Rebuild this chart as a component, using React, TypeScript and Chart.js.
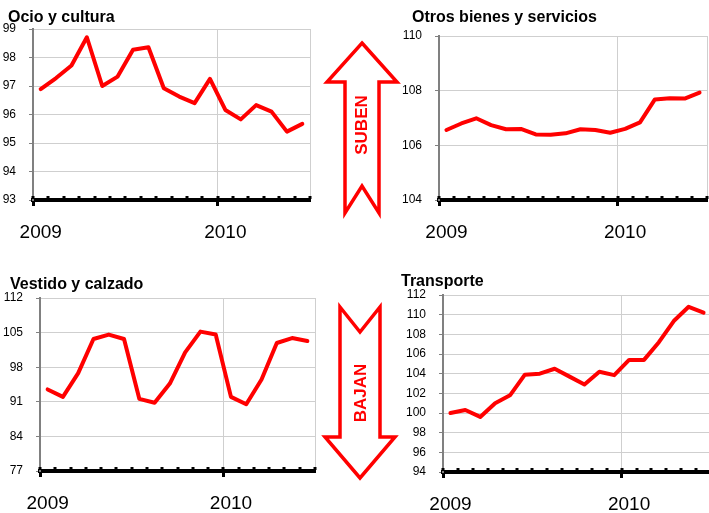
import React, { useEffect, useRef } from 'react';
import { Chart, registerables } from 'chart.js';

Chart.register(...registerables);

// ---------- DATA ----------
const months = [
  'ene-09', 'feb-09', 'mar-09', 'abr-09', 'may-09', 'jun-09', 'jul-09', 'ago-09', 'sep-09',
  'oct-09', 'nov-09', 'dic-09', 'ene-10', 'feb-10', 'mar-10', 'abr-10', 'may-10', 'jun-10',
];
const yearTickLabels = ['2009', '', '', '', '', '', '', '', '', '', '', '', '2010', '', '', '', '', ''];
const yearBoundaryIndex = 12;

const ocioValues = [96.89, 97.28, 97.72, 98.71, 97.0, 97.33, 98.27, 98.36, 96.92, 96.63, 96.4, 97.25, 96.16, 95.83, 96.33, 96.1, 95.4, 95.67];
const otrosValues = [106.56, 106.8, 106.99, 106.74, 106.59, 106.6, 106.4, 106.39, 106.44, 106.59, 106.56, 106.46, 106.6, 106.84, 107.68, 107.72, 107.71, 107.93];
const vestidoValues = [93.5, 92.0, 96.8, 103.7, 104.6, 103.7, 91.6, 90.8, 94.7, 101.0, 105.2, 104.6, 92.0, 90.5, 95.5, 102.9, 103.9, 103.3];
const transporteValues = [100.0, 100.3, 99.6, 101.0, 101.8, 103.9, 104.0, 104.5, 103.7, 102.9, 104.2, 103.85, 105.4, 105.4, 107.2, 109.35, 110.8, 110.2];

const ocioTicks = [93, 99, 1];
const otrosTicks = [104, 110, 2];
const vestidoTicks = [77, 112, 7];
const transporteTicks = [94, 112, 2];

const titles = ['Ocio y cultura', 'Otros bienes y servicios', 'Vestido y calzado', 'Transporte'];
const arrowLabels = ['SUBEN', 'BAJAN'];

// ---------- STYLE ----------
const FONT = '"Liberation Sans", Arial, Helvetica, sans-serif';
const RED = '#ff0000';
const GRID = '#cfcfcf';
const TRANSPARENT = 'rgba(0,0,0,0)';

interface Geo {
  cx: number; cy: number; titleX: number; titleTop: number;
  L: number; T: number; R: number; B: number; bottom: number;
}

const axisDots = {
  id: 'axisDots',
  afterDraw(chart: any) {
    const xs = chart.scales.x;
    const area = chart.chartArea;
    const n = xs.ticks.length;
    const ctx = chart.ctx;
    ctx.save();
    ctx.fillStyle = '#000';
    for (let i = 0; i <= n; i++) {
      const p = xs.getPixelForValue(i - 0.5);
      ctx.fillRect(Math.round(p) - 1.5, area.bottom - 4, 3, 3);
    }
    ctx.restore();
  },
};

function buildConfig(values: number[], ticks: number[], g: Geo): any {
  const yWidth = g.L - g.cx;
  const xHeight = g.bottom - g.B;
  return {
    type: 'line',
    data: {
      labels: months,
      datasets: [{
        data: values,
        borderColor: RED,
        borderWidth: 4,
        pointRadius: 0,
        tension: 0,
        fill: false,
        borderJoinStyle: 'round',
        borderCapStyle: 'round',
      }],
    },
    options: {
      responsive: false,
      animation: false,
      devicePixelRatio: 1,
      layout: { padding: { left: 0, right: 10, top: g.T - g.cy, bottom: 0 } },
      plugins: {
        legend: { display: false },
        tooltip: { enabled: false },
        title: { display: false },
      },
      scales: {
        x: {
          type: 'category',
          offset: true,
          afterFit: (s: any) => { s.height = xHeight; },
          grid: {
            display: true,
            offset: true,
            drawOnChartArea: true,
            drawTicks: true,
            tickLength: 6,
            tickWidth: 3,
            lineWidth: 1,
            color: (c: any) => (c.type === 'tick' ? (c.index === yearBoundaryIndex ? GRID : TRANSPARENT) : GRID),
            tickColor: (c: any) => (c.type === 'tick' && (c.index === 0 || c.index === yearBoundaryIndex) ? '#000' : TRANSPARENT),
          },
          border: { display: true, color: '#000', width: 4 },
          ticks: {
            autoSkip: false,
            maxRotation: 0,
            minRotation: 0,
            padding: 15,
            color: '#000',
            font: { family: FONT, size: 19 },
            callback: (_v: any, i: number) => yearTickLabels[i],
          },
        },
        y: {
          min: ticks[0],
          max: ticks[1],
          afterFit: (s: any) => { s.width = yWidth; },
          grid: {
            color: GRID,
            lineWidth: 1,
            drawTicks: true,
            tickLength: 4,
            tickColor: '#808080',
          },
          border: { display: true, color: '#808080', width: 2 },
          ticks: {
            stepSize: ticks[2],
            padding: 13,
            color: '#000',
            font: { family: FONT, size: 12 },
          },
        },
      },
    },
    plugins: [axisDots],
  };
}

function Panel({ title, values, ticks, g }: { title: string; values: number[]; ticks: number[]; g: Geo }) {
  const ref = useRef<HTMLCanvasElement>(null);
  const w = g.R + 10 - g.cx;
  const h = g.bottom - g.cy;
  useEffect(() => {
    const chart = new Chart(ref.current as HTMLCanvasElement, buildConfig(values, ticks, g));
    return () => chart.destroy();
  }, []);
  return (
    <>
      <canvas
        ref={ref}
        width={w}
        height={h}
        style={{ position: 'absolute', left: g.cx, top: g.cy, width: w, height: h }}
      />
      <div
        style={{
          position: 'absolute', left: g.titleX, top: g.titleTop, fontFamily: FONT, fontWeight: 'bold',
          fontSize: 16, lineHeight: '16px', color: '#000', whiteSpace: 'nowrap',
        }}
      >
        {title}
      </div>
    </>
  );
}

const geoOcio: Geo = { cx: 0, cy: 0, titleX: 8, titleTop: 9, L: 33, T: 29, R: 310, B: 200, bottom: 245 };
const geoOtros: Geo = { cx: 390, cy: 0, titleX: 412, titleTop: 9, L: 439, T: 36, R: 707, B: 200, bottom: 245 };
const geoVestido: Geo = { cx: 0, cy: 268, titleX: 10, titleTop: 276, L: 40, T: 298, R: 315, B: 471, bottom: 513 };
const geoTransporte: Geo = { cx: 390, cy: 266, titleX: 401, titleTop: 273, L: 443, T: 295, R: 711, B: 472, bottom: 513 };

export default function App() {
  return (
    <div style={{ position: 'absolute', left: 0, top: 0, width: 709, height: 513, overflow: 'hidden', background: '#fff' }}>
      <Panel title={titles[0]} values={ocioValues} ticks={ocioTicks} g={geoOcio} />
      <Panel title={titles[1]} values={otrosValues} ticks={otrosTicks} g={geoOtros} />
      <Panel title={titles[2]} values={vestidoValues} ticks={vestidoTicks} g={geoVestido} />
      <Panel title={titles[3]} values={transporteValues} ticks={transporteTicks} g={geoTransporte} />
      <svg width={709} height={513} style={{ position: 'absolute', left: 0, top: 0, pointerEvents: 'none' }}>
        <polygon
          points="362,43 397,82 379,82 379,213 362,186 345,213 345,82 327,82"
          fill="#fff" stroke={RED} strokeWidth={3.5} strokeLinejoin="miter"
        />
        <polygon
          points="340,307 360,332 380,307 380,437 395,437 360,478 325,437 340,437"
          fill="#fff" stroke={RED} strokeWidth={3.5} strokeLinejoin="miter"
        />
        <text x={361} y={125} transform="rotate(-90 361 125)" textAnchor="middle" dominantBaseline="central"
          fontFamily={FONT} fontWeight="bold" fontSize={17} fill={RED}>{arrowLabels[0]}</text>
        <text x={360} y={393} transform="rotate(-90 360 393)" textAnchor="middle" dominantBaseline="central"
          fontFamily={FONT} fontWeight="bold" fontSize={17} fill={RED}>{arrowLabels[1]}</text>
      </svg>
    </div>
  );
}
